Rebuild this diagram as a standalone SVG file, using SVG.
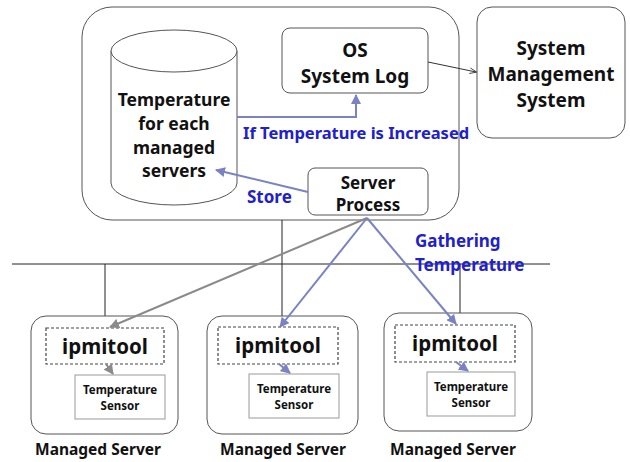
<svg xmlns="http://www.w3.org/2000/svg" width="630" height="462" viewBox="0 0 630 462">
<style>
.box{fill:#fff;stroke:#555;stroke-width:1}
.lite{fill:#fff;stroke:#999;stroke-width:1}
.dash{fill:#fff;stroke:#444;stroke-width:1.2;stroke-dasharray:3 2}
.t{font-family:"Noto Sans","Open Sans",sans-serif;font-weight:bold;fill:#111;text-anchor:middle}
.b{font-family:"Noto Sans","Open Sans",sans-serif;font-weight:bold;fill:#2020cc}
.line{stroke:#222;stroke-width:1;fill:none}
.blue{stroke:#7a82c4;stroke-width:2;fill:none}
.gray{stroke:#8a8a8a;stroke-width:2;fill:none}
</style>
<defs>
<marker id="ab" viewBox="0 0 10 10" refX="9" refY="5" markerWidth="5" markerHeight="5" orient="auto"><path d="M0,0 L10,5 L0,10 z" fill="#7a82c4"/></marker>
<marker id="ag" viewBox="0 0 10 10" refX="9" refY="5" markerWidth="5" markerHeight="5" orient="auto"><path d="M0,0 L10,5 L0,10 z" fill="#8a8a8a"/></marker>
<marker id="ak" viewBox="0 0 10 10" refX="9" refY="5" markerWidth="7" markerHeight="7" orient="auto"><path d="M0,1 L10,5 L0,9" fill="none" stroke="#333" stroke-width="1.2"/></marker>
</defs>
<rect width="630" height="462" fill="#fff"/>

<g id="host">
<rect class="box" x="82" y="7" width="377" height="213" rx="30"/>
</g>

<g id="network">
<line class="line" x1="12" y1="264" x2="550" y2="264"/>
<line class="line" x1="282" y1="220" x2="282" y2="317"/>
<line class="line" x1="105" y1="264" x2="105" y2="316"/>
<line class="line" x1="460" y1="264" x2="460" y2="313"/>
</g>

<g id="db">
<path class="box" d="M111,51 L111,183 A63,22 0 0 0 237,183 L237,51"/>
<ellipse class="box" cx="174" cy="51" rx="63" ry="21"/>
<text class="t" font-size="17.5" x="174" y="106">Temperature</text>
<text class="t" font-size="17.5" x="174" y="130">for each</text>
<text class="t" font-size="17.5" x="174" y="154">managed</text>
<text class="t" font-size="17.5" x="174" y="177">servers</text>
</g>

<g id="oslog">
<rect class="box" x="282" y="28" width="146" height="65" rx="8"/>
<text class="t" font-size="19" x="355" y="57">OS</text>
<text class="t" font-size="19" x="355" y="83">System Log</text>
</g>

<g id="serverprocess">
<rect class="box" x="308" y="168" width="120" height="47" rx="7"/>
<text class="t" font-size="17" x="368" y="189">Server</text>
<text class="t" font-size="17" x="368" y="211">Process</text>
</g>

<g id="sms">
<rect class="box" x="477" y="7" width="148" height="131" rx="15"/>
<text class="t" font-size="19" x="551" y="55">System</text>
<text class="t" font-size="19" x="551" y="81">Management</text>
<text class="t" font-size="19" x="551" y="107">System</text>
</g>

<g id="server1">
<rect class="box" x="31" y="316" width="147" height="118" rx="15"/>
<rect class="dash" x="46" y="328" width="118" height="36"/>
<text class="t" font-size="20.5" x="105" y="354">ipmitool</text>
<rect class="lite" x="75" y="375" width="90" height="44"/>
<text class="t" font-size="11.5" x="120" y="394">Temperature</text>
<text class="t" font-size="11.5" x="120" y="410">Sensor</text>
<text class="t" font-size="15.5" x="98" y="455">Managed Server</text>
</g>

<g id="server2">
<rect class="box" x="207" y="316" width="151" height="118" rx="15"/>
<rect class="dash" x="218" y="327" width="120" height="37"/>
<text class="t" font-size="20.5" x="278" y="353">ipmitool</text>
<rect class="lite" x="249" y="374" width="90" height="44"/>
<text class="t" font-size="11.5" x="294" y="393">Temperature</text>
<text class="t" font-size="11.5" x="294" y="409">Sensor</text>
<text class="t" font-size="15.5" x="283" y="455">Managed Server</text>
</g>

<g id="server3">
<rect class="box" x="384" y="313" width="148" height="118" rx="15"/>
<rect class="dash" x="395" y="325" width="120" height="37"/>
<text class="t" font-size="20.5" x="455" y="351">ipmitool</text>
<rect class="lite" x="427" y="372" width="88" height="44"/>
<text class="t" font-size="11.5" x="471" y="391">Temperature</text>
<text class="t" font-size="11.5" x="471" y="407">Sensor</text>
<text class="t" font-size="15.5" x="453" y="455">Managed Server</text>
</g>

<g id="connectors">
<line stroke="#333" stroke-width="1" x1="428" y1="62" x2="476" y2="72" marker-end="url(#ak)"/>
<polyline class="blue" points="237,117 356,117 356,95" marker-end="url(#ab)"/>
<line class="blue" x1="308" y1="192" x2="216" y2="170" marker-end="url(#ab)"/>
<line class="gray" x1="367" y1="218" x2="110" y2="327" marker-end="url(#ag)"/>
<line class="blue" x1="367" y1="218" x2="280" y2="327" marker-end="url(#ab)"/>
<line class="blue" x1="367" y1="218" x2="456" y2="324" marker-end="url(#ab)"/>
<line class="gray" x1="106" y1="364" x2="113" y2="374" marker-end="url(#ag)"/>
<line class="blue" x1="279" y1="364" x2="290" y2="373" marker-end="url(#ab)"/>
<line class="blue" x1="456" y1="362" x2="468" y2="371" marker-end="url(#ab)"/>
</g>

<g id="labels">
<text class="b" font-size="16.5" x="243" y="139">If Temperature is Increased</text>
<text class="b" font-size="17" x="247" y="203">Store</text>
<text class="b" font-size="17" x="415" y="247">Gathering</text>
<text class="b" font-size="17" x="415" y="271">Temperature</text>
</g>
</svg>
